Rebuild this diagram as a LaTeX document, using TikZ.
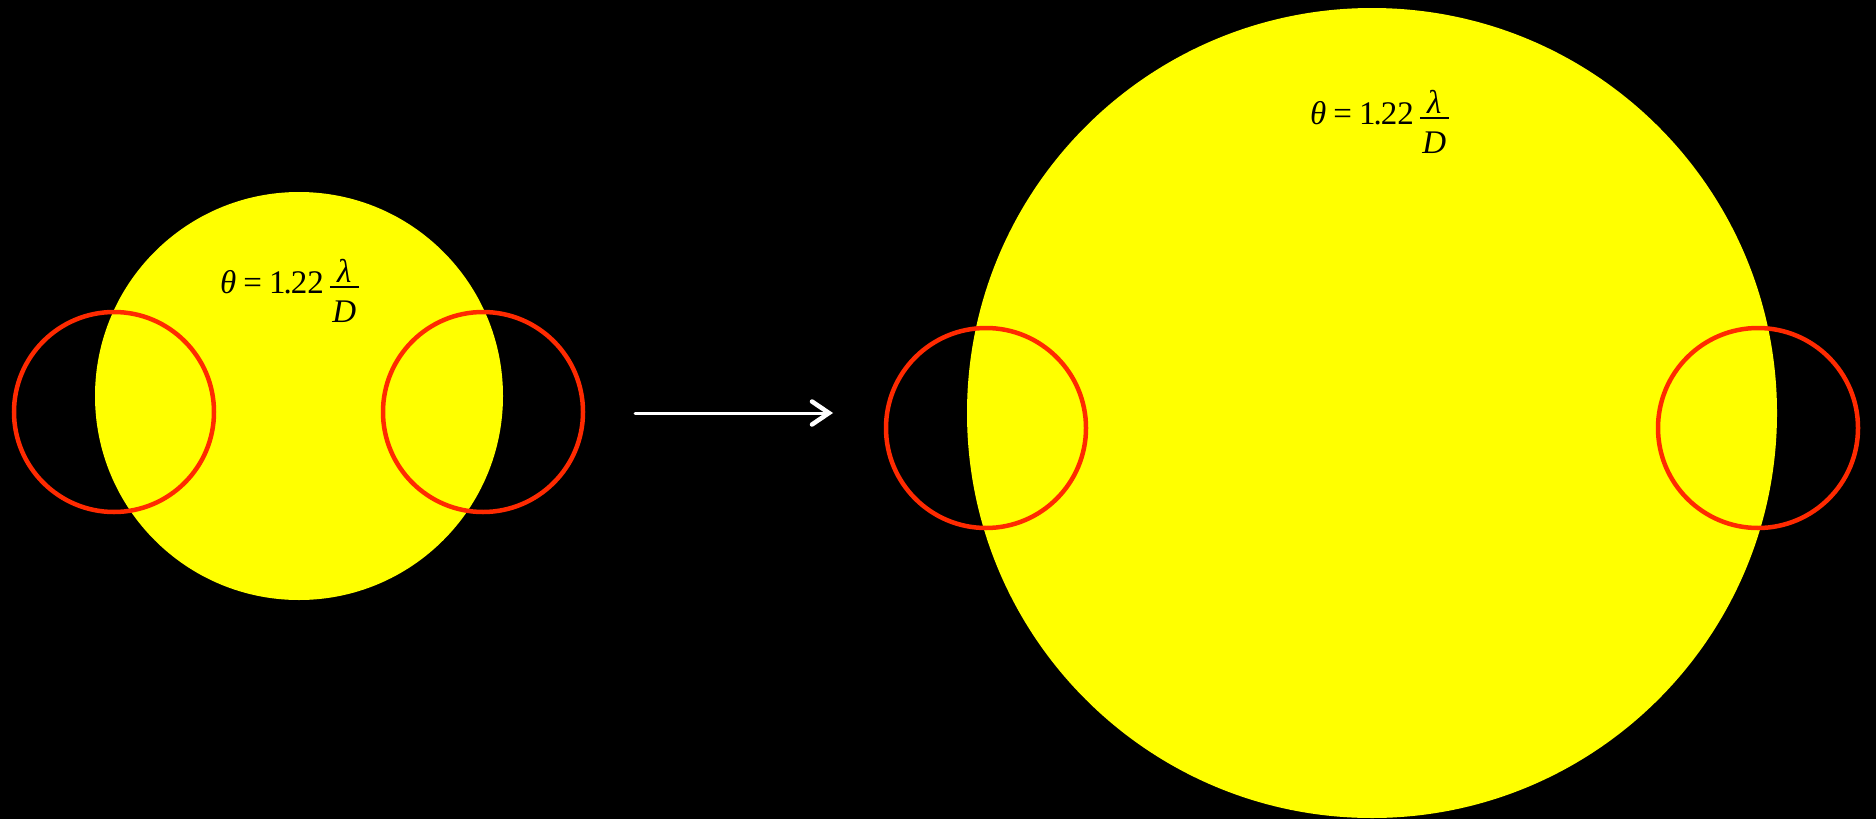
\documentclass[tikz,border=0pt]{standalone}
\usepackage{fontspec}
\setmainfont{Liberation Serif}
\usetikzlibrary{arrows.meta}
\definecolor{sunyellow}{HTML}{FFFF00}
\definecolor{ringred}{HTML}{FF2A00}
\newcommand{\rayleigh}{\fontsize{33}{40}\selectfont{\itshape θ}\hspace{7pt}=\hspace{7pt}1\hspace{-2pt}.\hspace{-1pt}22\hspace{6pt}%
\rlap{\raisebox{11pt}{\hbox to 29pt{\hss\itshape λ\hss}}}%
\rlap{\raisebox{-29pt}{\hbox to 29pt{\hss\itshape D\hss}}}%
\rule[5.5pt]{29pt}{1.5pt}}
\begin{document}
\begin{tikzpicture}[x=1pt,y=-1pt,
  disk/.style={fill=sunyellow},
  ring/.style={draw=ringred,line width=4.5pt},
  formula/.style={anchor=base west,inner sep=0pt,text=black}]
\fill[black] (0,0) rectangle (1876,819);
\useasboundingbox (0,0) rectangle (1876,819);
% small disk
\fill[disk] (299,396) circle (204);
\draw[ring] (114,412) circle (100);
\draw[ring] (483,412) circle (100);
\node[formula] (f1) at (220,293) {\rayleigh};
% arrow
\coordinate (a1) at (635,413);
\coordinate (a2) at (833,413);
\draw[white,line width=3pt,line cap=round,-{Straight Barb[length=17pt,width=23pt,line width=4.5pt,line cap=round]}] (a1) -- (a2);
% big disk
\fill[disk] (1372,413) circle (405);
\draw[ring] (986,428) circle (100);
\draw[ring] (1758,428) circle (100);
\node[formula] (f2) at (1310,124) {\rayleigh};
\end{tikzpicture}
\end{document}
